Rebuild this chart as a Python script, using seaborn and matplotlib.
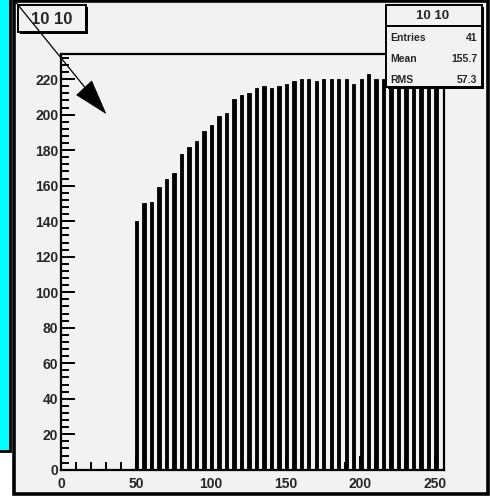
import matplotlib
matplotlib.use("Agg")
import matplotlib.pyplot as plt
from matplotlib.patches import Rectangle, Polygon
from matplotlib.lines import Line2D
from matplotlib.ticker import MultipleLocator
import seaborn as sns

# dane histogramu (dolna krawedz binu i zawartosc)
bin_low = [50, 55, 60, 65, 70, 75, 80, 85, 90, 95,
           100, 105, 110, 115, 120, 125, 130, 135, 140, 145,
           150, 155, 160, 165, 170, 175, 180, 185, 190, 195,
           200, 205, 210, 215, 220, 225, 230, 235, 240, 245, 250]
counts = [140, 150, 151, 159, 164, 167, 178, 182, 185, 191,
          194, 199, 201, 209, 211, 212, 215, 216, 215, 216,
          217, 219, 220, 220, 219, 220, 220, 220, 220, 217,
          220, 223, 220, 220, 219, 218, 219, 220, 219, 218, 220]
x_ticks = [0, 50, 100, 150, 200, 250]
y_ticks = [0, 20, 40, 60, 80, 100, 120, 140, 160, 180, 200, 220]
hist_title = "10 10"
stats_labels = ["Entries", "Mean", "RMS"]
stats_values = ["41", "155.7", "57.3"]

W, H = 490, 498
GREY = "#f2f2f2"

sns.set_style("ticks")
plt.rcParams["font.family"] = ["Liberation Sans", "DejaVu Sans"]

fig = plt.figure(figsize=(W / 100, H / 100), dpi=100)
fig.patch.set_facecolor("white")


def pixel_axes(z):
    # os w pikselach obrazka (y w dol), do ramek i adnotacji
    a = fig.add_axes([0, 0, 1, 1], zorder=z)
    a.set_xlim(0, W)
    a.set_ylim(H, 0)
    a.axis("off")
    a.patch.set_alpha(0)
    return a


bg = pixel_axes(0)
bg.add_patch(Rectangle((-2, -2), 11.5, 452.5, facecolor="#00ffff", edgecolor="black", lw=2))
bg.add_patch(Rectangle((13.5, 1.2), 474.5, 492.5, facecolor=GREY, edgecolor="black", lw=2.6))

# glowny wykres
ax = fig.add_axes([61 / W, 1 - 469.8 / H, (444.3 - 61) / W, (469.8 - 54.3) / H], zorder=1)
ax.set_facecolor(GREY)
centers = [b + 0.5 for b in bin_low]
sns.barplot(x=centers, y=counts, native_scale=True, width=0.45, color="black",
            saturation=1, edgecolor="black", linewidth=0.6, errorbar=None, ax=ax)
ax.set_xlim(0, 256)
ax.set_ylim(0, 234)
ax.set_xticks(x_ticks)
ax.set_yticks(y_ticks)
ax.xaxis.set_minor_locator(MultipleLocator(10))
ax.yaxis.set_minor_locator(MultipleLocator(4))
ax.set_xticklabels([str(t) for t in x_ticks])
ax.set_yticklabels([str(t) for t in y_ticks])
ax.tick_params(which="both", direction="in", width=1.4, color="black", labelsize=10)
ax.tick_params(which="major", length=10)
ax.tick_params(which="minor", length=6)
ax.tick_params(axis="x", pad=5)
ax.tick_params(axis="y", pad=2)
for lbl in ax.get_xticklabels() + ax.get_yticklabels():
    lbl.set_fontweight("bold")
for s in ax.spines.values():
    s.set_linewidth(1.6)
    s.set_color("black")
ax.set_xlabel("")
ax.set_ylabel("")

# adnotacje: strzalka, tytul, statystyki
ov = pixel_axes(3)
ov.add_line(Line2D([14, 100], [0, 106], color="black", lw=0.9))
ov.add_patch(Polygon([[76.7, 95], [91.7, 81], [105.7, 113.3]], closed=True,
                     facecolor="black", edgecolor="black", lw=0.5))

ov.add_patch(Rectangle((20, 7), 68, 27, facecolor="black", edgecolor="none"))
ov.add_patch(Rectangle((18, 5), 68, 27, facecolor=GREY, edgecolor="black", lw=1.4))
ov.text(52, 19.5, hist_title, ha="center", va="center", fontsize=12, fontweight="bold")

ov.add_patch(Rectangle((387.5, 7), 96, 82, facecolor="black", edgecolor="none"))
ov.add_patch(Rectangle((385.5, 5), 96, 82, facecolor=GREY, edgecolor="black", lw=1.4))
ov.add_line(Line2D([385.5, 481.5], [25.5, 25.5], color="black", lw=1.4))
ov.text(433, 15.5, hist_title, ha="center", va="center", fontsize=9.5, fontweight="bold")
for i, (lab, val) in enumerate(zip(stats_labels, stats_values)):
    y = 37.7 + i * 21.2
    ov.text(390, y, lab, ha="left", va="center", fontsize=7.5, fontweight="bold")
    ov.text(477.5, y, val, ha="right", va="center", fontsize=7.5, fontweight="bold")

fig.savefig("out.png", dpi=100)
